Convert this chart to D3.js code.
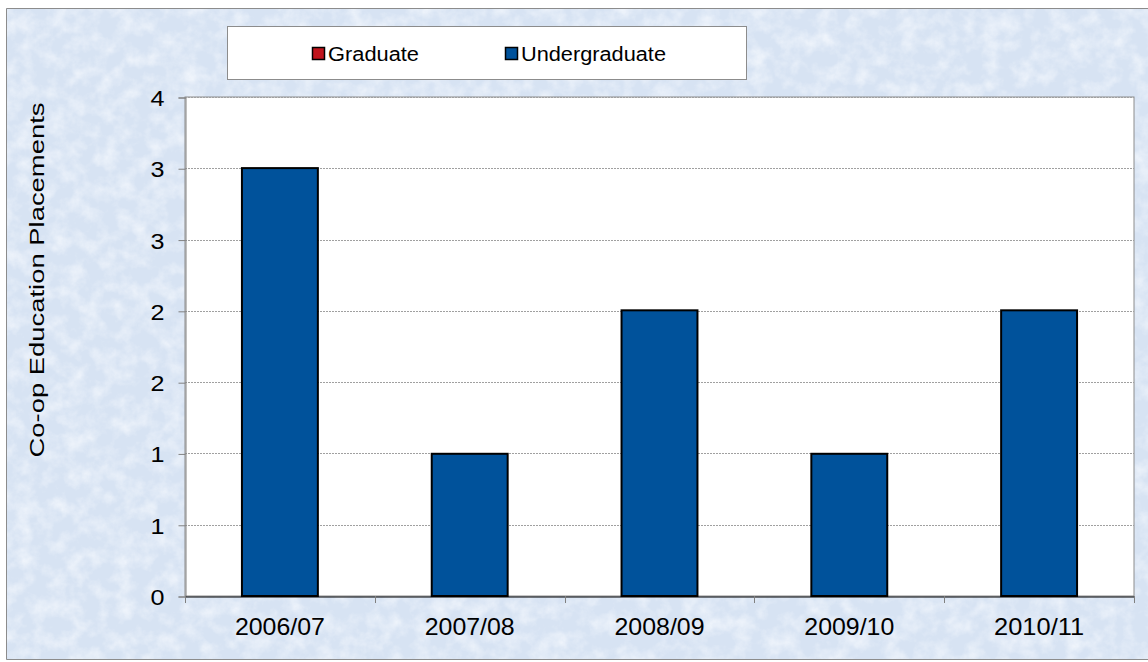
<!DOCTYPE html>
<html>
<head>
<meta charset="utf-8">
<script src="https://cdn.jsdelivr.net/npm/d3@7"></script>
<style>
  body { margin: 0; background: #fff; }
  text { font-family: "Liberation Sans", Arial, sans-serif; fill: #000; }
</style>
</head>
<body>
<div id="chart-area"></div>
<script>
// Data
const years = ["2006/07", "2007/08", "2008/09", "2009/10", "2010/11"];
const graduate = [0, 0, 0, 0, 0];
const undergraduate = [3.43, 1.14, 2.29, 1.14, 2.29];
const seriesNames = ["Graduate", "Undergraduate"];
const seriesColors = ["#c0141c", "#00529b"];
const yTicks = [0, 0.571, 1.143, 1.714, 2.286, 2.857, 3.429, 4];

const W = 1148, H = 662;
const plot = { left: 185, top: 97, right: 1134, bottom: 596 };

const svg = d3.select("#chart-area").append("svg")
  .attr("width", W).attr("height", H);

// marbled background
const defs = svg.append("defs");
const f = defs.append("filter").attr("id", "marble")
  .attr("x", 0).attr("y", 0).attr("width", "100%").attr("height", "100%");
f.append("feTurbulence").attr("type", "fractalNoise")
  .attr("baseFrequency", "0.06").attr("numOctaves", 5).attr("seed", 11);
f.append("feColorMatrix").attr("type", "matrix")
  .attr("values", "0 0 0 0 0.95  0 0 0 0 0.97  0 0 0 0 1  1.3 0 0 0 -0.5");

svg.append("rect").attr("x", 6).attr("y", 8).attr("width", W).attr("height", 652)
  .attr("fill", "#d7e3f3");
svg.append("rect").attr("x", 6).attr("y", 8).attr("width", W).attr("height", 652)
  .attr("filter", "url(#marble)");
svg.append("path")
  .attr("d", `M${W},8.5H6.5V659.5H${W}`)
  .attr("fill", "none").attr("stroke", "#8c8c8c").attr("stroke-width", 1);

// Scales
const x = d3.scaleBand().domain(years).range([plot.left, plot.right]);
const y = d3.scaleLinear().domain([0, 4]).range([plot.bottom, plot.top]);

// plot area
svg.append("rect")
  .attr("x", plot.left).attr("y", plot.top)
  .attr("width", plot.right - plot.left).attr("height", plot.bottom - plot.top)
  .attr("fill", "#fff").attr("stroke", "#8c8c8c").attr("stroke-width", 1);

// gridlines
svg.append("g").selectAll("line")
  .data(yTicks.slice(1))
  .join("line")
    .attr("x1", plot.left).attr("x2", plot.right)
    .attr("y1", d => Math.round(y(d)) + 0.5).attr("y2", d => Math.round(y(d)) + 0.5)
    .attr("stroke", "#a0a0a0").attr("stroke-dasharray", "2,1");

// Y axis
const yAxis = svg.append("g")
  .attr("transform", `translate(${plot.left + 0.5},0.5)`)
  .call(d3.axisLeft(y).tickValues(yTicks).tickSize(7).tickPadding(14)
    .tickFormat(d => Math.round(d)));
yAxis.select(".domain").attr("stroke", "#808080");
yAxis.selectAll(".tick line").attr("stroke", "#808080");
yAxis.selectAll("text").attr("font-size", 22).attr("dy", "0.36em")
  .attr("textLength", 14).attr("lengthAdjust", "spacingAndGlyphs");

// X axis
const xAxis = svg.append("g")
  .attr("transform", `translate(0,${plot.bottom + 0.5})`)
  .call(d3.axisBottom(x).tickSize(0).tickPadding(21));
xAxis.select(".domain").attr("stroke", "#000");
xAxis.selectAll("text").attr("font-size", 24)
  .attr("textLength", 90).attr("lengthAdjust", "spacingAndGlyphs");
// boundary ticks between categories
svg.append("g").selectAll("line")
  .data(d3.range(years.length + 1))
  .join("line")
    .attr("x1", i => Math.round(plot.left + i * x.bandwidth()) + 0.5)
    .attr("x2", i => Math.round(plot.left + i * x.bandwidth()) + 0.5)
    .attr("y1", plot.bottom).attr("y2", plot.bottom + 7)
    .attr("stroke", "#808080");

// Y label
svg.append("text")
  .attr("transform", `translate(44,280) rotate(-90)`)
  .attr("text-anchor", "middle")
  .attr("font-size", 21)
  .attr("textLength", 355).attr("lengthAdjust", "spacingAndGlyphs")
  .text("Co-op Education Placements");

// Bars
const barW = x.bandwidth() * 0.4;
svg.append("g").selectAll("rect")
  .data(undergraduate)
  .join("rect")
    .attr("x", (d, i) => x(years[i]) + (x.bandwidth() - barW) / 2)
    .attr("y", d => y(d))
    .attr("width", barW)
    .attr("height", d => y(0) - y(d))
    .attr("fill", seriesColors[1])
    .attr("stroke", "#000").attr("stroke-width", 2);

// Legend
const legend = svg.append("g");
legend.append("rect")
  .attr("x", 227.5).attr("y", 26.5).attr("width", 519).attr("height", 53)
  .attr("fill", "#fff").attr("stroke", "#8c8c8c");
const legendX = [312, 505];
const legendLen = [91, 145];
seriesNames.forEach((name, i) => {
  const row = legend.append("g").attr("transform", `translate(${legendX[i]},47)`);
  row.append("rect")
    .attr("x", 0.5).attr("y", 0.5).attr("width", 12).attr("height", 12)
    .attr("fill", seriesColors[i]).attr("stroke", "#000").attr("stroke-width", 1.5);
  row.append("text")
    .attr("x", 16).attr("y", 13.5)
    .attr("font-size", 20)
    .attr("textLength", legendLen[i]).attr("lengthAdjust", "spacingAndGlyphs")
    .text(name);
});
</script>
</body>
</html>
